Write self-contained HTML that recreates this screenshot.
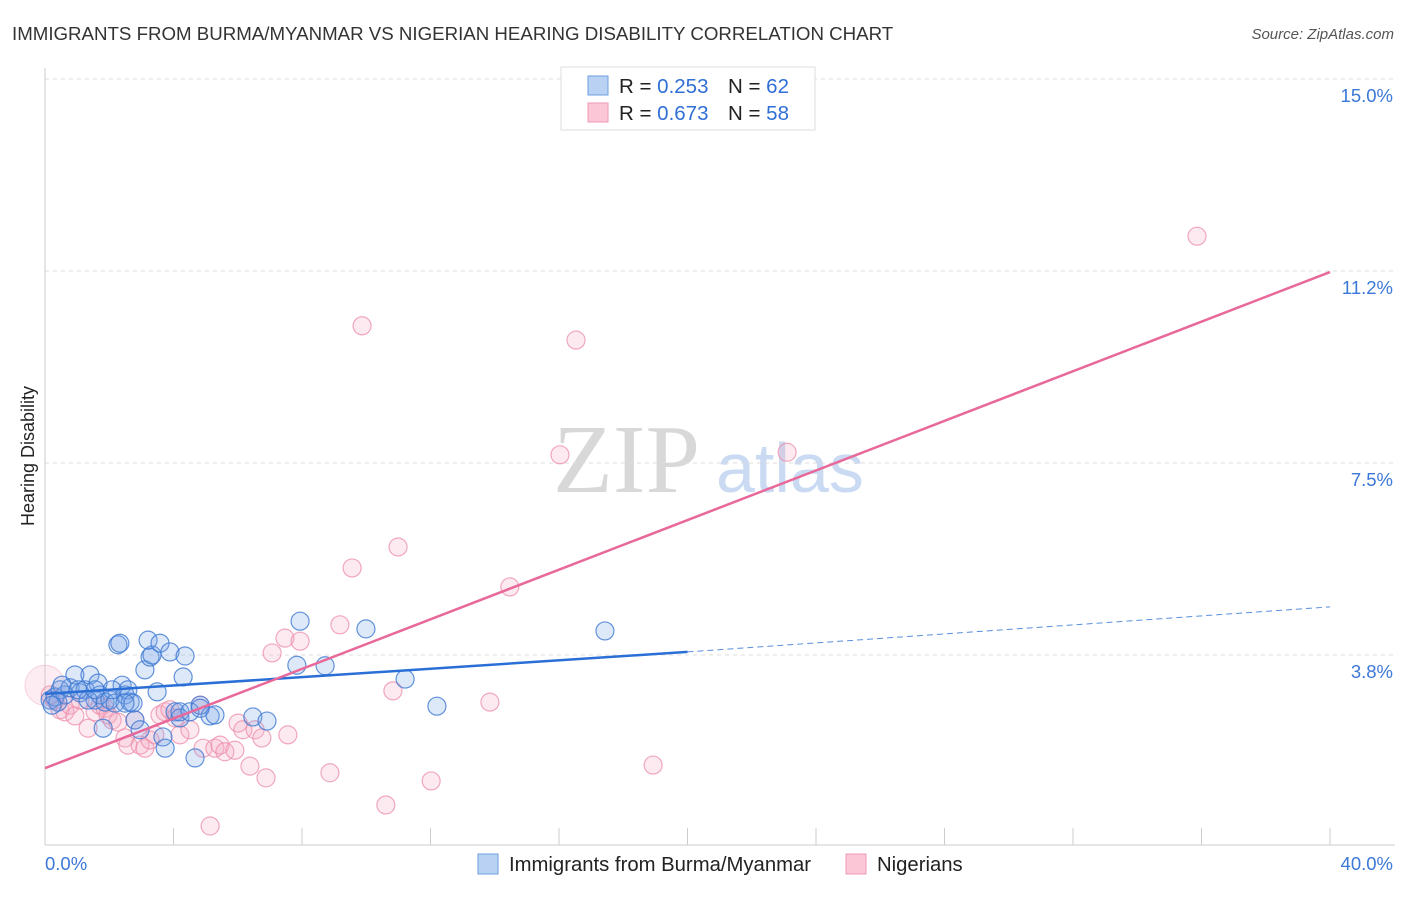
<!DOCTYPE html>
<html><head><meta charset="utf-8"><style>
body{margin:0;background:#fff;font-family:"Liberation Sans",sans-serif;}
svg text{font-family:"Liberation Sans",sans-serif;}
</style></head><body>
<svg id="chart" width="1406" height="892">
<text x="12" y="40" font-size="18.7" fill="#333">IMMIGRANTS FROM BURMA/MYANMAR VS NIGERIAN HEARING DISABILITY CORRELATION CHART</text>
<text x="1394" y="39" font-size="15" fill="#555" font-style="italic" text-anchor="end">Source: ZipAtlas.com</text>
<text transform="translate(34,456) rotate(-90)" font-size="18" fill="#222" text-anchor="middle">Hearing Disability</text>
<g>
<text x="553" y="492" font-size="98" fill="#d8d8d8" font-family="Liberation Serif" style="font-family:'Liberation Serif',serif">ZIP</text>
<text x="716" y="492" font-size="70" fill="#c9daf2">atlas</text>
</g>
<g id="grid"></g><g id="axes"></g><g id="pts"></g><g id="lines"></g>
<g>
<rect x="561" y="67" width="254" height="63" fill="#fff" stroke="#ddd"/>
<rect x="588" y="76" width="20" height="19" fill="#b9d1f3" stroke="#6d9ee0"/>
<rect x="588" y="103" width="20" height="19" fill="#fbc7d6" stroke="#ee9ab4"/>
<text x="619" y="93" font-size="20.5" fill="#222">R = <tspan fill="#2f6fd6">0.253</tspan></text>
<text x="728" y="93" font-size="20.5" fill="#222">N = <tspan fill="#2f6fd6">62</tspan></text>
<text x="619" y="120" font-size="20.5" fill="#222">R = <tspan fill="#2f6fd6">0.673</tspan></text>
<text x="728" y="120" font-size="20.5" fill="#222">N = <tspan fill="#2f6fd6">58</tspan></text>
</g>
<g>
<rect x="478" y="854" width="20" height="20" fill="#b9d1f3" stroke="#6d9ee0"/>
<text x="509" y="871" font-size="20.3" fill="#222">Immigrants from Burma/Myanmar</text>
<rect x="846" y="854" width="20" height="20" fill="#fbc7d6" stroke="#ee9ab4"/>
<text x="877" y="871" font-size="20.3" fill="#222">Nigerians</text>
</g>
</svg>
<script>
const yTicks=[3.75,7.5,11.25,15];
const yTickLabels=["3.8%","7.5%","11.2%","15.0%"];
const xTickLabels=["0.0%","40.0%"];
const blueX=[0.16,0.31,0.47,0.62,0.78,0.93,1.09,1.25,1.40,1.56,1.65,1.71,1.87,2.02,2.18,2.27,2.33,2.40,2.49,2.58,2.65,2.74,2.80,3.11,3.27,3.33,3.21,3.49,3.58,3.67,3.74,3.89,4.05,4.20,4.30,4.36,4.67,4.83,5.14,5.29,6.47,6.91,7.84,7.94,8.72,9.99,11.21,12.20,17.43,1.81,2.96,2.09,1.34,0.40,0.22,4.20,4.51,4.83,0.53,1.03,1.56,2.49];
const blueY=[2.87,2.93,3.07,2.97,3.11,3.36,3.01,3.07,3.36,2.87,3.20,2.97,2.83,2.87,2.81,3.95,3.98,3.16,2.97,3.07,2.83,2.81,2.48,3.46,3.71,3.75,4.04,3.03,3.98,2.15,1.93,3.81,2.64,2.52,3.32,3.73,1.74,2.77,2.56,2.58,2.54,2.46,3.55,4.41,3.54,4.26,3.28,2.75,4.22,2.32,2.29,3.07,2.87,2.83,2.77,2.64,2.64,2.71,3.16,3.07,3.07,2.81];
const pinkX=[0.16,0.31,0.47,0.62,0.78,0.93,1.09,1.34,1.56,1.71,1.87,1.96,2.09,2.27,2.49,2.58,2.80,2.96,3.11,3.27,3.42,3.58,3.74,3.89,4.05,4.20,4.51,4.83,4.92,5.14,5.29,5.45,5.60,5.91,6.01,6.16,6.38,6.54,6.75,6.88,7.07,7.47,7.56,7.94,8.87,9.18,9.56,9.87,10.61,10.83,10.99,12.02,13.85,14.47,16.03,16.53,18.93,23.10,35.86];
const pinkY=[2.97,2.87,2.68,2.64,2.77,2.56,2.87,2.32,2.64,2.77,2.71,2.58,2.48,2.44,2.13,1.99,2.48,1.99,1.93,2.09,2.19,2.58,2.64,2.68,2.52,2.19,2.29,2.77,1.93,0.41,1.93,1.99,1.86,1.89,2.42,2.29,1.58,2.29,2.13,1.35,3.79,4.08,2.19,4.02,1.45,4.34,5.45,10.18,0.82,3.05,5.86,1.29,2.83,5.08,7.66,9.90,1.60,7.71,11.93];
const blueTrend=[2.99,3.81,4.69];
const pinkTrend=[1.54,11.23];
const NS="http://www.w3.org/2000/svg";
const X=v=>45+v/40*1285;
const Y=v=>847-v*51.2;
function mk(tag,attrs,parent){const e=document.createElementNS(NS,tag);for(const k in attrs)e.setAttribute(k,attrs[k]);document.getElementById(parent).appendChild(e);return e;}
yTicks.forEach((t,i)=>{
 const g=mk('line',{x1:45,x2:1395,y1:Y(t),y2:Y(t),stroke:'#dcdcdc','stroke-dasharray':'4,4'},'grid');
 
 
 const l=mk('text',{x:1393,y:Y(t)+23,'font-size':18.5,fill:'#3b78d8','text-anchor':'end'},'axes');
 l.textContent=yTickLabels[i];
 
 
});
const ax=mk('line',{x1:45,x2:45,y1:68,y2:845,stroke:'#ccc'},'axes');


const bx=mk('line',{x1:45,x2:1395,y1:845,y2:845,stroke:'#ccc'},'axes');


for(let i=1;i<=10;i++){const t=mk('line',{x1:X(i*4),x2:X(i*4),y1:828,y2:845,stroke:'#ccc'},'axes');
 
 }
[[0,'start',45],[40,'end',1393]].forEach((d,i)=>{const t=mk('text',{x:d[2],y:870,'font-size':18.5,fill:'#3b78d8','text-anchor':d[1]},'axes');t.textContent=xTickLabels[i];
 
 });
const bigP=mk('circle',{cx:X(0),cy:Y(3.16),r:20,fill:'rgba(245,170,195,0.22)',stroke:'rgba(236,140,170,0.35)'},'pts');


pinkX.forEach((v,i)=>{const c=mk('circle',{cx:X(v),cy:Y(pinkY[i]),r:9,fill:'rgba(245,170,195,0.25)',stroke:'rgba(236,140,170,0.75)','stroke-width':1.2},'pts');
 
 });
blueX.forEach((v,i)=>{const c=mk('circle',{cx:X(v),cy:Y(blueY[i]),r:9,fill:'rgba(120,165,230,0.25)',stroke:'rgba(60,120,210,0.8)','stroke-width':1.2},'pts');
 
 });
const bl=mk('line',{x1:X(0),y1:Y(blueTrend[0]),x2:X(20),y2:Y(blueTrend[1]),stroke:'#2a6fd6','stroke-width':2.5},'lines');


const bd=mk('line',{x1:X(20),y1:Y(blueTrend[1]),x2:X(40),y2:Y(blueTrend[2]),stroke:'#5a8fdc','stroke-width':1,'stroke-dasharray':'6,4'},'lines');


const pl=mk('line',{x1:X(0),y1:Y(pinkTrend[0]),x2:X(40),y2:Y(pinkTrend[1]),stroke:'#e8689a','stroke-width':2.5},'lines');


</script>
</body></html>
